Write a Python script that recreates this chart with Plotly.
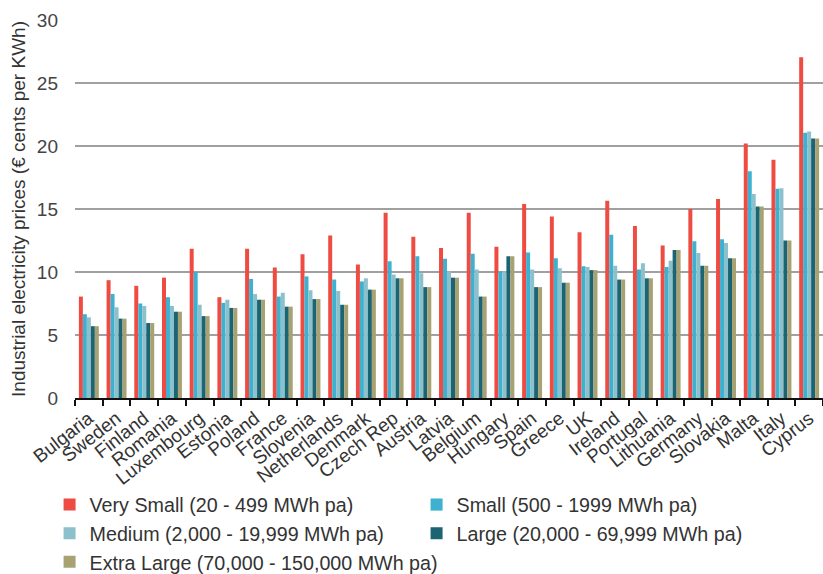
import plotly.graph_objects as go

countries = ["Bulgaria", "Sweden", "Finland", "Romania", "Luxembourg", "Estonia", "Poland",
             "France", "Slovenia", "Netherlands", "Denmark", "Czech Rep", "Austria", "Latvia",
             "Belgium", "Hungary", "Spain", "Greece", "UK", "Ireland", "Portugal", "Lithuania",
             "Germany", "Slovakia", "Malta", "Italy", "Cyprus"]

very_small = [8.05, 9.35, 8.9, 9.55, 11.85, 8.0, 11.85, 10.35, 11.4, 12.9, 10.6, 14.7, 12.8, 11.9,
              14.7, 12.0, 15.4, 14.4, 13.15, 15.65, 13.65, 12.1, 15.0, 15.8, 20.2, 18.9, 27.05]
small = [6.65, 8.25, 7.5, 8.0, 10.0, 7.55, 9.45, 8.05, 9.65, 9.4, 9.25, 10.85, 11.25, 11.05,
         11.45, 10.05, 11.55, 11.1, 10.45, 12.95, 10.2, 10.4, 12.45, 12.6, 18.0, 16.6, 21.05]
medium = [6.4, 7.2, 7.3, 7.3, 7.4, 7.8, 8.25, 8.35, 8.55, 8.5, 9.5, 9.8, 9.9, 10.05,
          10.2, 10.05, 10.2, 10.3, 10.4, 10.5, 10.7, 10.9, 11.5, 12.3, 16.2, 16.65, 21.15]
large = [5.7, 6.3, 5.95, 6.85, 6.5, 7.15, 7.8, 7.25, 7.85, 7.4, 8.6, 9.5, 8.8, 9.55,
         8.05, 11.25, 8.8, 9.15, 10.15, 9.4, 9.5, 11.75, 10.5, 11.1, 15.2, 12.5, 20.6]
extra_large = [5.7, 6.3, 5.95, 6.85, 6.5, 7.15, 7.8, 7.25, 7.85, 7.4, 8.6, 9.5, 8.8, 9.55,
               8.05, 11.25, 8.8, 9.15, 10.15, 9.4, 9.5, 11.75, 10.5, 11.1, 15.2, 12.5, 20.6]

series_names = ["Very Small (20 - 499 MWh pa)", "Small (500 - 1999 MWh pa)",
                "Medium (2,000 - 19,999 MWh pa)", "Large (20,000 - 69,999 MWh pa)",
                "Extra Large (70,000 - 150,000 MWh pa)"]
series_values = [very_small, small, medium, large, extra_large]
colors = ["#EE4B43", "#3DB1CF", "#8CC0CB", "#1B6473", "#A8A273"]

y_ticks = [0, 5, 10, 15, 20, 25, 30]

FONT = "Liberation Sans, Arial, sans-serif"

fig = go.Figure()
for name, vals, col in zip(series_names, series_values, colors):
    fig.add_trace(go.Bar(x=countries, y=vals, name=name,
                         marker=dict(color=col, line=dict(width=0))))

fig.update_layout(
    width=823, height=574,
    margin=dict(l=75, r=0, t=20, b=176, autoexpand=False),
    paper_bgcolor="white", plot_bgcolor="white",
    barmode="group", bargap=0.28, bargroupgap=0,
    font=dict(family=FONT, size=19, color="#333333"),
    showlegend=True,
    legend=dict(orientation="h", x=-0.034, xanchor="left", y=-0.231, yanchor="top",
                entrywidth=322, entrywidthmode="pixels",
                font=dict(family=FONT, size=19.7, color="#333333"),
                traceorder="normal", itemwidth=30, tracegroupgap=0),
    xaxis=dict(range=[-0.5, 26.5], tickangle=-38, tickson="boundaries", automargin=False,
               ticks="outside", ticklen=6, tickwidth=2, tickcolor="#111111",
               showline=True, linecolor="#111111", linewidth=2,
               showgrid=False, tickfont=dict(family=FONT, size=19, color="#333333")),
    yaxis=dict(range=[0, 30], tickvals=y_ticks, showgrid=True, gridcolor="#A0A0A0", gridwidth=2,
               zeroline=False, showline=False, ticks="", ticklabelstandoff=16, automargin=False,
               tickfont=dict(family=FONT, size=19, color="#444444"),
               title=dict(text="Industrial electricity prices (€ cents per KWh)", standoff=6,
                          font=dict(family=FONT, size=19, color="#333333"))),
)

fig.write_html("out.html")
